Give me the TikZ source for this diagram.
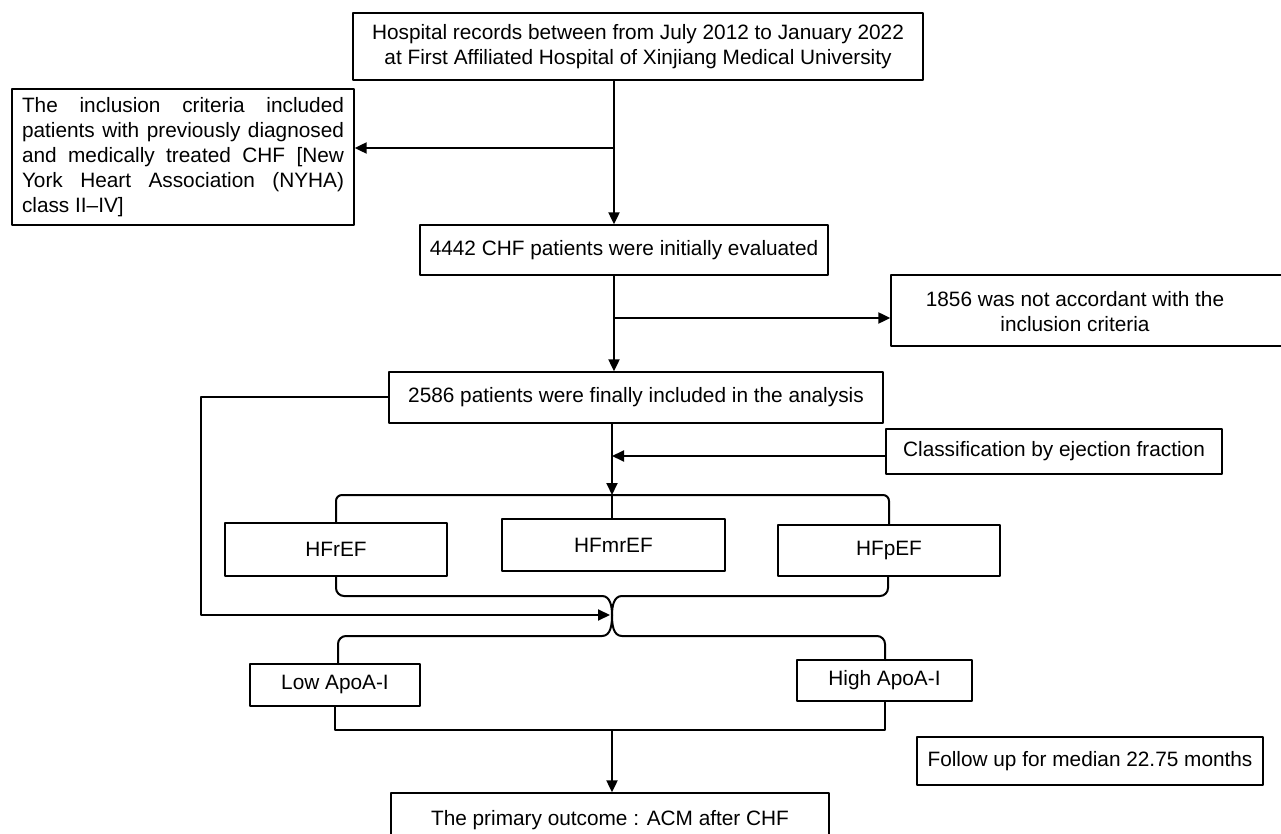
\documentclass[tikz,border=0pt]{standalone}
\usepackage{fontspec}
\setmainfont{Liberation Sans}
\usetikzlibrary{arrows.meta}

\begin{document}
\begin{tikzpicture}[
      x=0.5pt, y=-0.5pt,
      line cap=round,
      line join=round,
      every node/.style={font=\fontsize{10.4pt}{12.5pt}\selectfont, inner sep=2pt},
      box/.style={draw, line width=0.65pt, align=center},
      link/.style={line width=1pt},
      arr/.style={line width=1pt, -{Triangle[length=6pt,width=5.5pt]}},
    ]
    \useasboundingbox (0,0) rectangle (1281,834);
    \clip (0,0) rectangle (1281,834);
    %% Boxes.
    \node[box, minimum width=285pt, minimum height=33.5pt] (records) at (638,46.5)
      {Hospital records between from July 2012 to January 2022\\
       at First Affiliated Hospital of Xinjiang Medical University};
    \node[box, align=justify, text width=161pt, inner xsep=5pt, minimum height=68pt]
      (criteria) at (183,157)
      {The inclusion criteria included\linebreak
       patients with previously diagnosed\linebreak
       and medically treated CHF [New\linebreak
       York Heart Association (NYHA)\linebreak
       class II–IV]};
    \node[box, minimum width=204pt, minimum height=25pt] (initial) at (624,250)
      {4442 CHF patients were initially evaluated};
    \node[box, minimum width=200pt, minimum height=35.5pt] (excluded) at (1091,310.5) {};
    \node[align=center] (excludedtext) at (1075,312)
      {1856 was not accordant with the\\ inclusion criteria};
    \node[box, minimum width=247pt, minimum height=25.5pt] (included) at (636,397.5)
      {2586 patients were finally included in the analysis};
    \node[box, minimum width=168pt, minimum height=22.5pt] (classif) at (1054,451.5)
      {Classification by ejection fraction};
    %% Ejection fraction groups.
    \node[box, minimum width=111pt, minimum height=26.5pt] (hfref) at (336,549.5) {HFrEF};
    \node[box, minimum width=111.5pt, minimum height=26pt] (hfmref) at (613.5,545) {HFmrEF};
    \node[box, minimum width=111pt, minimum height=25.5pt] (hfpef) at (889,550.5) {HFpEF};
    %% ApoA-I groups.
    \node[box, minimum width=85pt, minimum height=21pt] (lowapo) at (335,685) {Low ApoA-I};
    \node[box, minimum width=87.5pt, minimum height=20.5pt] (highapo) at (884.5,680.5) {High ApoA-I};
    \node[box, minimum width=173pt, minimum height=24pt] (followup) at (1090,761)
      {Follow up for median 22.75 months};
    \node[box, minimum width=219pt, minimum height=33.5pt] (outcome) at (610,826.5) {};
    \node (outcometext) at (610,820) {The primary outcome : ACM after CHF};
    %% Junction points.
    \coordinate (j1) at (614,148);
    \coordinate (j2) at (614,318);
    \coordinate (j3) at (612,456);
    \coordinate (tb) at (612,495);
    \coordinate (tip) at (612,615);
    \coordinate (bb) at (612,730);
    %% Main flow.
    \draw[arr] (j1 |- records.south) -- (j1 |- initial.north);
    \draw[arr] (j1) -- (j1 -| criteria.east);
    \draw[arr] (j2 |- initial.south) -- (j2 |- included.north);
    \draw[arr] (j2) -- (j2 -| excluded.west);
    \draw[arr] (j3 |- included.south) -- (tb);
    \draw[arr] (classif.west |- j3) -- (j3);
    %% Bracket over the three groups.
    \draw[link, rounded corners=3pt] (hfref.north) |- (tb) -| (hfpef.north);
    \draw[link] (tb) -- (tb |- hfmref.north);
    %% Double brace joining the groups to ApoA-I.
    \draw[link] (hfref.south) -- (336,588) to[out=-90,in=180] (344,596)
      -- (602,596) to[out=0,in=90] (tip);
    \draw[link] (hfpef.south -| 888,0) -- (888,588) to[out=-90,in=0] (880,596)
      -- (622,596) to[out=180,in=90] (tip);
    \draw[link] (tip) to[out=-90,in=0] (602,636) -- (346,636)
      to[out=180,in=90] (338,644) -- (338,664);
    \draw[link] (tip) to[out=-90,in=180] (622,636) -- (877,636)
      to[out=0,in=90] (885,644) -- (885,660);
    \draw[arr, shorten >=1pt] (included.west) -- ++(-187,0) |- (tip);
    %% Bracket under ApoA-I groups.
    \draw[link] (lowapo.south) |- (bb) -| (highapo.south);
    \draw[arr] (bb) -- (bb |- outcome.north);
  \end{tikzpicture}
\end{document}
